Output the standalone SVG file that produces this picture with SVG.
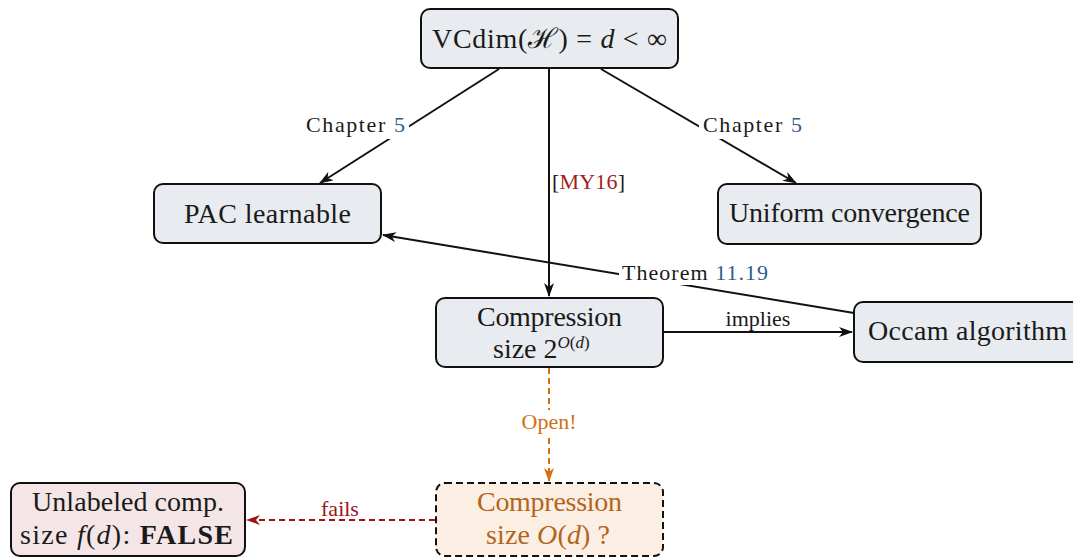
<svg xmlns="http://www.w3.org/2000/svg" width="1073" height="558" viewBox="0 0 1073 558">
  <style>
    .node { fill: #e8ebef; stroke: #111; stroke-width: 2; }
    .txt { font-family: "Liberation Serif", "DejaVu Serif", serif; fill: #1a1a1a; }
    .nt { font-size: 28px; }
    .lb { font-size: 22px; }
    .edge { fill: none; stroke: #111; stroke-width: 2; }
    .bg { fill: #ffffff; }
    .blue { fill: #2f5d8c; }
    .red { fill: #a31c1c; }
    .it { font-style: italic; }
  </style>
  <defs>
    <marker id="ah" viewBox="0 0 14 10" markerWidth="14" markerHeight="10" refX="13" refY="5" orient="auto" markerUnits="userSpaceOnUse">
      <path d="M0,0 L14,5 L0,10 L4,5 Z" fill="#111"/>
    </marker>
    <marker id="ah-orange" viewBox="0 0 14 10" markerWidth="14" markerHeight="10" refX="13" refY="5" orient="auto" markerUnits="userSpaceOnUse">
      <path d="M0,0 L14,5 L0,10 L4,5 Z" fill="#d4700f"/>
    </marker>
    <marker id="ah-red" viewBox="0 0 14 10" markerWidth="14" markerHeight="10" refX="13" refY="5" orient="auto" markerUnits="userSpaceOnUse">
      <path d="M0,0 L14,5 L0,10 L4,5 Z" fill="#9b1515"/>
    </marker>
  </defs>

  <!-- connectors -->
  <g id="connectors">
    <path class="edge" d="M499,69 L320,183" marker-end="url(#ah)"/>
    <path class="edge" d="M601,69 L796,183" marker-end="url(#ah)"/>
    <path class="edge" d="M549,69 L549,296" marker-end="url(#ah)"/>
    <path class="edge" d="M854,313 L383,235" marker-end="url(#ah)"/>
    <path class="edge" d="M663,332 L852,332" marker-end="url(#ah)"/>
    <path class="edge" d="M549,368 L549,481" style="stroke:#d4700f" stroke-dasharray="6 4" marker-end="url(#ah-orange)"/>
    <path class="edge" d="M435,520 L247,520" style="stroke:#9b1515" stroke-dasharray="6 4" marker-end="url(#ah-red)"/>

    <!-- edge labels -->
    <rect class="bg" x="302" y="113" width="107" height="26"/>
    <text class="txt lb" x="405" y="132" text-anchor="end" textLength="99">Chapter <tspan class="blue">5</tspan></text>

    <rect class="bg" x="699" y="113" width="107" height="26"/>
    <text class="txt lb" x="703" y="132" textLength="99">Chapter <tspan class="blue">5</tspan></text>

    <text class="txt lb" x="552" y="189" textLength="73">[<tspan class="red">MY16</tspan>]</text>

    <rect class="bg" x="619" y="261" width="152" height="24"/>
    <text class="txt lb" x="622" y="280" textLength="146">Theorem <tspan class="blue">11.19</tspan></text>

    <text class="txt lb" x="758" y="326" text-anchor="middle">implies</text>

    <rect class="bg" x="516" y="410" width="66" height="26"/>
    <text class="txt lb" x="549" y="429" text-anchor="middle" style="fill:#d4700f">Open!</text>

    <text class="txt lb" x="340" y="516" text-anchor="middle" style="fill:#9b1515">fails</text>
  </g>

  <!-- nodes -->
  <g id="vcdim">
    <rect class="node" x="421" y="9" width="257" height="59" rx="9"/>
    <text class="txt nt" x="432" y="48" textLength="235">VCdim(ℋ) = <tspan class="it">d</tspan> &lt; ∞</text>
  </g>

  <g id="pac">
    <rect class="node" x="154" y="184" width="227" height="59" rx="9"/>
    <text class="txt nt" x="184" y="223" textLength="167">PAC learnable</text>
  </g>

  <g id="uniform">
    <rect class="node" x="718" y="184" width="263" height="60" rx="9"/>
    <text class="txt nt" x="729" y="222" textLength="241">Uniform convergence</text>
  </g>

  <g id="compression">
    <rect class="node" x="436" y="298" width="227" height="69" rx="9"/>
    <text class="txt nt" x="477" y="326" textLength="145">Compression</text>
    <text class="txt nt" x="493" y="358">size 2<tspan font-size="17" dy="-10" class="it">O</tspan><tspan font-size="17">(</tspan><tspan font-size="17" class="it">d</tspan><tspan font-size="17">)</tspan></text>
  </g>

  <g id="occam">
    <rect class="node" x="854" y="302" width="230" height="60" rx="9"/>
    <text class="txt nt" x="868" y="340" textLength="199">Occam algorithm</text>
  </g>

  <g id="compression-open">
    <rect x="436" y="483" width="227" height="73" rx="9" fill="#fbefe4" stroke="#111" stroke-width="2" stroke-dasharray="7 4"/>
    <text class="txt nt" x="477" y="511" textLength="145" style="fill:#b5641c">Compression</text>
    <text class="txt nt" x="486" y="544" textLength="124" style="fill:#b5641c">size <tspan class="it">O</tspan>(<tspan class="it">d</tspan>) ?</text>
  </g>

  <g id="unlabeled">
    <rect x="11" y="483" width="234" height="73" rx="9" fill="#f4e6e6" stroke="#111" stroke-width="2"/>
    <text class="txt nt" x="32" y="511" textLength="192">Unlabeled comp.</text>
    <text class="txt nt" x="20" y="544" textLength="213">size <tspan class="it">f</tspan>(<tspan class="it">d</tspan>): <tspan font-weight="bold">FALSE</tspan></text>
  </g>
</svg>
